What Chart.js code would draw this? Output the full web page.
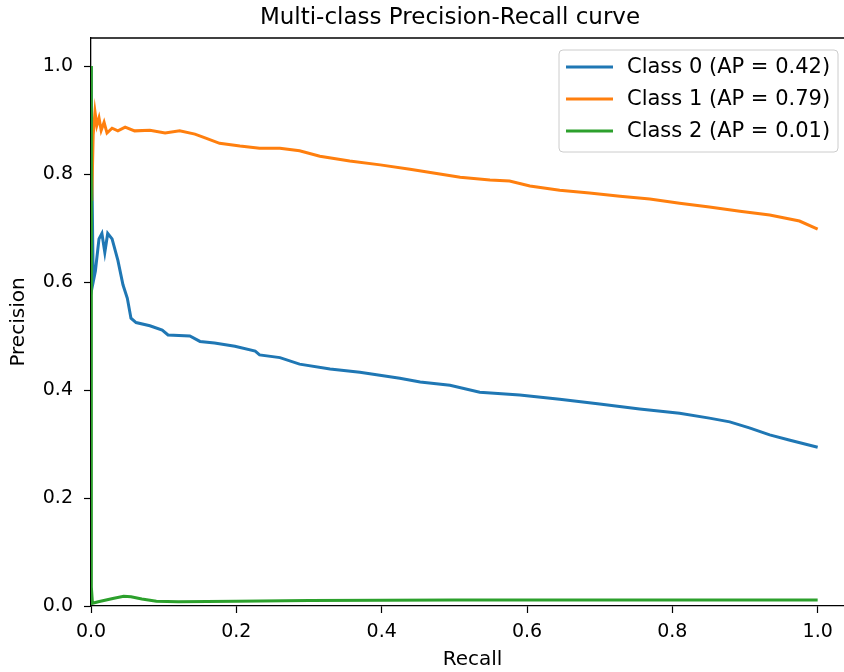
<!DOCTYPE html>
<html>
<head>
<meta charset="utf-8">
<script src="https://cdn.jsdelivr.net/npm/chart.js@4.4.1/dist/chart.umd.min.js"></script>
<style>
  html, body { margin: 0; padding: 0; background: #fff; overflow: hidden; }
  #wrap { width: 844px; height: 672px; overflow: hidden; }
</style>
</head>
<body>
<div id="wrap"><canvas id="pr" width="860" height="672"></canvas></div>
<script>
  const chartTitle = 'Multi-class Precision-Recall curve';
  const classLabels = ['Class 0 (AP = 0.42)', 'Class 1 (AP = 0.79)', 'Class 2 (AP = 0.01)'];
  const classColors = ['#1f77b4', '#ff7f0e', '#2ca02c'];

  const recall0 = [0.0, 0.0014, 0.003, 0.006, 0.011, 0.015, 0.019, 0.023, 0.029, 0.037, 0.044, 0.05, 0.055, 0.062, 0.081, 0.098, 0.106, 0.136, 0.15, 0.17, 0.198, 0.226, 0.232, 0.26, 0.287, 0.329, 0.37, 0.425, 0.453, 0.494, 0.535, 0.59, 0.645, 0.7, 0.755, 0.81, 0.851, 0.879, 0.906, 0.934, 0.962, 1.0];
  const precision0 = [1.0, 0.785, 0.60, 0.62, 0.68, 0.69, 0.655, 0.69, 0.68, 0.64, 0.595, 0.57, 0.533, 0.525, 0.519, 0.511, 0.502, 0.50, 0.49, 0.487, 0.481, 0.472, 0.465, 0.46, 0.448, 0.439, 0.433, 0.422, 0.415, 0.409, 0.396, 0.391, 0.383, 0.374, 0.365, 0.357, 0.348, 0.341, 0.33, 0.317, 0.307, 0.294];

  const recall1 = [0.001, 0.003, 0.0055, 0.008, 0.011, 0.014, 0.018, 0.022, 0.029, 0.037, 0.047, 0.06, 0.081, 0.102, 0.122, 0.143, 0.157, 0.177, 0.205, 0.232, 0.26, 0.287, 0.315, 0.356, 0.398, 0.439, 0.48, 0.508, 0.549, 0.576, 0.604, 0.645, 0.686, 0.728, 0.769, 0.81, 0.851, 0.893, 0.934, 0.975, 1.0];
  const precision1 = [0.75, 0.872, 0.915, 0.89, 0.904, 0.881, 0.896, 0.876, 0.885, 0.88, 0.887, 0.88, 0.881, 0.876, 0.88, 0.874, 0.867, 0.857, 0.852, 0.848, 0.848, 0.843, 0.833, 0.824, 0.817, 0.809, 0.8, 0.794, 0.789, 0.787, 0.778, 0.77, 0.765, 0.759, 0.754, 0.746, 0.739, 0.731, 0.724, 0.713, 0.698];

  const recall2 = [0.0, 0.0005, 0.002, 0.01, 0.03, 0.045, 0.055, 0.07, 0.09, 0.12, 0.2, 0.3, 0.5, 0.7, 1.0];
  const precision2 = [1.0, 0.035, 0.005, 0.008, 0.014, 0.018, 0.017, 0.013, 0.009, 0.008, 0.009, 0.010, 0.011, 0.011, 0.011];

  const xTicks = [0.0, 0.2, 0.4, 0.6, 0.8, 1.0];
  const yTicks = [0.0, 0.2, 0.4, 0.6, 0.8, 1.0];

  const toPoints = (xs, ys) => xs.map((x, i) => ({ x: x, y: ys[i] }));

  const FONT = 'DejaVu Sans';

  // title, top spine and the legend box inside the axes, matplotlib style
  const framePlugin = {
    id: 'frame',
    afterDraw(chart) {
      const { ctx, chartArea } = chart;
      ctx.save();

      // keep the strip past the legend clean (figure is cropped there)
      ctx.fillStyle = '#fff';
      ctx.fillRect(840, chartArea.top + 1, 20, chartArea.bottom - chartArea.top - 2);

      ctx.fillStyle = '#000';
      ctx.font = '23px "' + FONT + '"';
      ctx.textAlign = 'center';
      ctx.textBaseline = 'alphabetic';
      ctx.fillText(chartTitle, 450, 24);

      ctx.strokeStyle = '#000';
      ctx.lineWidth = 1.3;
      ctx.beginPath();
      ctx.moveTo(chartArea.left, chartArea.top);
      ctx.lineTo(chartArea.right, chartArea.top);
      ctx.stroke();

      const bx = 559, by = 50, bw = 279, bh = 102, r = 4;
      ctx.beginPath();
      ctx.moveTo(bx + r, by);
      ctx.arcTo(bx + bw, by, bx + bw, by + bh, r);
      ctx.arcTo(bx + bw, by + bh, bx, by + bh, r);
      ctx.arcTo(bx, by + bh, bx, by, r);
      ctx.arcTo(bx, by, bx + bw, by, r);
      ctx.closePath();
      ctx.fillStyle = 'rgba(255,255,255,0.8)';
      ctx.fill();
      ctx.strokeStyle = '#cccccc';
      ctx.lineWidth = 1;
      ctx.stroke();

      ctx.font = '21px "' + FONT + '"';
      ctx.textBaseline = 'middle';
      ctx.textAlign = 'left';
      chart.data.datasets.forEach((ds, i) => {
        const y = by + 17 + i * 32;
        ctx.strokeStyle = ds.borderColor;
        ctx.lineWidth = 3;
        ctx.beginPath();
        ctx.moveTo(bx + 7, y);
        ctx.lineTo(bx + 54, y);
        ctx.stroke();
        ctx.fillStyle = '#000';
        ctx.fillText(ds.label, bx + 68, y + 1);
      });
      ctx.restore();
    }
  };

  new Chart(
    document.getElementById('pr'),
    {
      type: 'scatter',
      data: {
        datasets: [
          { label: classLabels[0], data: toPoints(recall0, precision0), borderColor: classColors[0], order: 3 },
          { label: classLabels[1], data: toPoints(recall1, precision1), borderColor: classColors[1], order: 2 },
          { label: classLabels[2], data: toPoints(recall2, precision2), borderColor: classColors[2], order: 1 }
        ].map(ds => Object.assign(ds, {
          showLine: true,
          pointRadius: 0,
          borderWidth: 3,
          tension: 0,
          backgroundColor: ds.borderColor
        }))
      },
      options: {
        responsive: false,
        animation: false,
        layout: { padding: { left: 0, right: 6, top: 38, bottom: 0 } },
        plugins: {
          legend: { display: false },
          tooltip: { enabled: false },
          title: { display: false }
        },
        scales: {
          x: {
            type: 'linear',
            min: 0,
            max: 1.05,
            afterBuildTicks: s => { s.ticks = xTicks.map(v => ({ value: v })); },
            afterFit: s => { s.height = 66; },
            grid: { drawOnChartArea: false, drawTicks: true, tickLength: 7, tickColor: '#000', tickWidth: 1.2 },
            border: { display: true, color: '#000', width: 1.3 },
            ticks: {
              color: '#000',
              padding: 8,
              maxRotation: 0,
              font: { family: FONT, size: 19 },
              callback: v => v.toFixed(1)
            },
            title: {
              display: true,
              text: 'Recall',
              color: '#000',
              font: { family: FONT, size: 20 },
              padding: { top: 0, bottom: 0 }
            }
          },
          y: {
            type: 'linear',
            min: 0,
            max: 1.052,
            afterBuildTicks: s => { s.ticks = yTicks.map(v => ({ value: v })); },
            afterFit: s => { s.width = 91; },
            grid: { drawOnChartArea: false, drawTicks: true, tickLength: 7, tickColor: '#000', tickWidth: 1.2 },
            border: { display: true, color: '#000', width: 1.3 },
            ticks: {
              color: '#000',
              padding: 11,
              font: { family: FONT, size: 19 },
              callback: v => v.toFixed(1)
            },
            title: {
              display: true,
              text: 'Precision',
              color: '#000',
              font: { family: FONT, size: 20 },
              padding: { top: 7, bottom: 0 }
            }
          }
        }
      },
      plugins: [framePlugin]
    }
  );
</script>
</body>
</html>
